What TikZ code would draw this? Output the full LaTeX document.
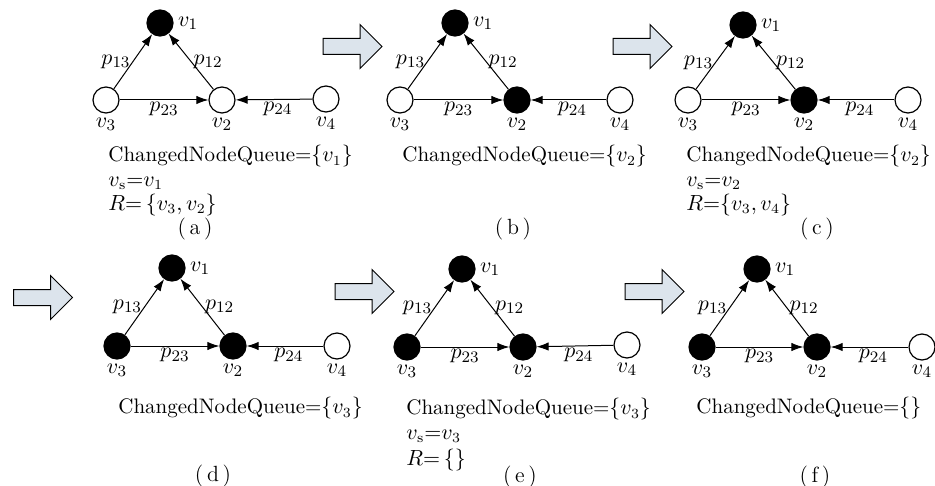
\documentclass[tikz,border=0pt]{standalone}
\usepackage{tikz}
\usetikzlibrary{arrows.meta,shapes.arrows,positioning}
\definecolor{stepfill}{RGB}{220,228,236}
\tikzset{
  vtxon/.style={
    circle, draw=black, fill=black, line width=0.6pt,
    minimum size=13pt, inner sep=0pt
  },
  vtxoff/.style={
    circle, draw=black, fill=white, line width=0.6pt,
    minimum size=13pt, inner sep=0pt
  },
  vlab/.style={font=\fontsize{11}{13}\selectfont, inner sep=1pt},
  plab/.style={font=\fontsize{11}{13}\selectfont, inner sep=1pt},
  linkarc/.style={->, >={Latex[length=6pt,width=4.2pt]}, line width=0.5pt},
  stepbig/.style={
    single arrow, draw=black, fill=stepfill, line width=0.5pt,
    minimum height=29.5pt, inner xsep=0pt, inner ysep=3.75pt,
    single arrow head extend=7pt, single arrow tip angle=90
  },
  statebox/.style={
    anchor=north west, align=left, inner sep=0pt,
    font=\fontsize{10.5}{12.2}\selectfont
  },
  capbox/.style={font=\fontsize{11}{13}\selectfont}
}
\begin{document}
\begin{tikzpicture}[x=0.5pt, y=-0.5pt, label distance=1pt]
  \useasboundingbox (0,0) rectangle (935,486);
  \node[stepbig] (stepab) at (348.5,46.5) {};
  \node[stepbig] (stepbc) at (638.5,46.5) {};
  \node[stepbig] (stepcd) at (39,297.5) {};
  \node[stepbig] (stepde) at (360.5,291.5) {};
  \node[stepbig] (stepef) at (650.5,291.5) {};

  \node[vtxon, label={[vlab]right:$v_1$}] (a1) at (160,23) {};
  \node[vtxoff, label={[vlab]below:$v_2$}] (a2) at (222,100) {};
  \node[vtxoff, label={[vlab]below:$v_3$}] (a3) at (106,100) {};
  \node[vtxoff, label={[vlab]below:$v_4$}] (a4) at (326,99) {};
  \draw[linkarc] (a3) -- node[plab, left] {$p_{13}$} (a1);
  \draw[linkarc] (a2) -- node[plab, right] {$p_{12}$} (a1);
  \draw[linkarc] (a3) -- node[plab, below] {$p_{23}$} (a2);
  \draw[linkarc] (a4) -- node[plab, below, pos=0.45] {$p_{24}$} (a2);
  \node[statebox] (infoa) at (108,145) {ChangedNodeQueue=$\{v_1\}$\\$v_{\mathrm{s}}{=}v_1$\\$R{=}\,\{v_3,v_2\}$};
  \node[capbox] (capa) at (195,229) {(\,a\,)};

  \node[vtxon, label={[vlab]right:$v_1$}] (b1) at (455,23) {};
  \node[vtxon, label={[vlab]below:$v_2$}] (b2) at (517,100) {};
  \node[vtxoff, label={[vlab]below:$v_3$}] (b3) at (400,100) {};
  \node[vtxoff, label={[vlab]below:$v_4$}] (b4) at (620,100) {};
  \draw[linkarc] (b3) -- node[plab, left] {$p_{13}$} (b1);
  \draw[linkarc] (b2) -- node[plab, right] {$p_{12}$} (b1);
  \draw[linkarc] (b3) -- node[plab, below] {$p_{23}$} (b2);
  \draw[linkarc] (b4) -- node[plab, below, pos=0.45] {$p_{24}$} (b2);
  \node[statebox] (infob) at (402,145) {ChangedNodeQueue=$\{v_2\}$};
  \node[capbox] (capb) at (513,229) {(\,b\,)};

  \node[vtxon, label={[vlab]right:$v_1$}] (c1) at (743,25) {};
  \node[vtxon, label={[vlab]below:$v_2$}] (c2) at (804,100) {};
  \node[vtxoff, label={[vlab]below:$v_3$}] (c3) at (688,100) {};
  \node[vtxoff, label={[vlab]below:$v_4$}] (c4) at (908,100) {};
  \draw[linkarc] (c3) -- node[plab, left] {$p_{13}$} (c1);
  \draw[linkarc] (c2) -- node[plab, right] {$p_{12}$} (c1);
  \draw[linkarc] (c3) -- node[plab, below] {$p_{23}$} (c2);
  \draw[linkarc] (c4) -- node[plab, below, pos=0.45] {$p_{24}$} (c2);
  \node[statebox] (infoc) at (686,145) {ChangedNodeQueue=$\{v_2\}$\\$v_{\mathrm{s}}{=}v_2$\\$R{=}\{v_3,v_4\}$};
  \node[capbox] (capc) at (817,229) {(\,c\,)};

  \node[vtxon, label={[vlab]right:$v_1$}] (d1) at (172,268) {};
  \node[vtxon, label={[vlab]below:$v_2$}] (d2) at (233,346) {};
  \node[vtxon, label={[vlab]below:$v_3$}] (d3) at (117,346) {};
  \node[vtxoff, label={[vlab]below:$v_4$}] (d4) at (337,346) {};
  \draw[linkarc] (d3) -- node[plab, left] {$p_{13}$} (d1);
  \draw[linkarc] (d2) -- node[plab, right] {$p_{12}$} (d1);
  \draw[linkarc] (d3) -- node[plab, below] {$p_{23}$} (d2);
  \draw[linkarc] (d4) -- node[plab, below, pos=0.45] {$p_{24}$} (d2);
  \node[statebox] (infod) at (118,397) {ChangedNodeQueue=$\{v_3\}$};
  \node[capbox] (capd) at (213,476) {(\,d\,)};

  \node[vtxon, label={[vlab]right:$v_1$}] (e1) at (462,269) {};
  \node[vtxon, label={[vlab]below:$v_2$}] (e2) at (523,347) {};
  \node[vtxon, label={[vlab]below:$v_3$}] (e3) at (407,347) {};
  \node[vtxoff, label={[vlab]below:$v_4$}] (e4) at (627,345) {};
  \draw[linkarc] (e3) -- node[plab, left] {$p_{13}$} (e1);
  \draw[linkarc] (e2) -- node[plab, right] {$p_{12}$} (e1);
  \draw[linkarc] (e3) -- node[plab, below] {$p_{23}$} (e2);
  \draw[linkarc] (e4) -- node[plab, below, pos=0.45] {$p_{24}$} (e2);
  \node[statebox] (infoe) at (406,398) {ChangedNodeQueue=$\{v_3\}$\\$v_{\mathrm{s}}{=}v_3$\\[0.8pt]$R{=}\,\{\}$};
  \node[capbox] (cape) at (520,477) {(\,e\,)};

  \node[vtxon, label={[vlab]right:$v_1$}] (f1) at (757,269) {};
  \node[vtxon, label={[vlab]below:$v_2$}] (f2) at (817,347) {};
  \node[vtxon, label={[vlab]below:$v_3$}] (f3) at (702,347) {};
  \node[vtxoff, label={[vlab]below:$v_4$}] (f4) at (922,347) {};
  \draw[linkarc] (f3) -- node[plab, left] {$p_{13}$} (f1);
  \draw[linkarc] (f2) -- node[plab, right] {$p_{12}$} (f1);
  \draw[linkarc] (f3) -- node[plab, below] {$p_{23}$} (f2);
  \draw[linkarc] (f4) -- node[plab, below, pos=0.45] {$p_{24}$} (f2);
  \node[statebox] (infof) at (696,397) {ChangedNodeQueue=$\{\}$};
  \node[capbox] (capf) at (815,477) {(\,f\,)};
\end{tikzpicture}
\end{document}
